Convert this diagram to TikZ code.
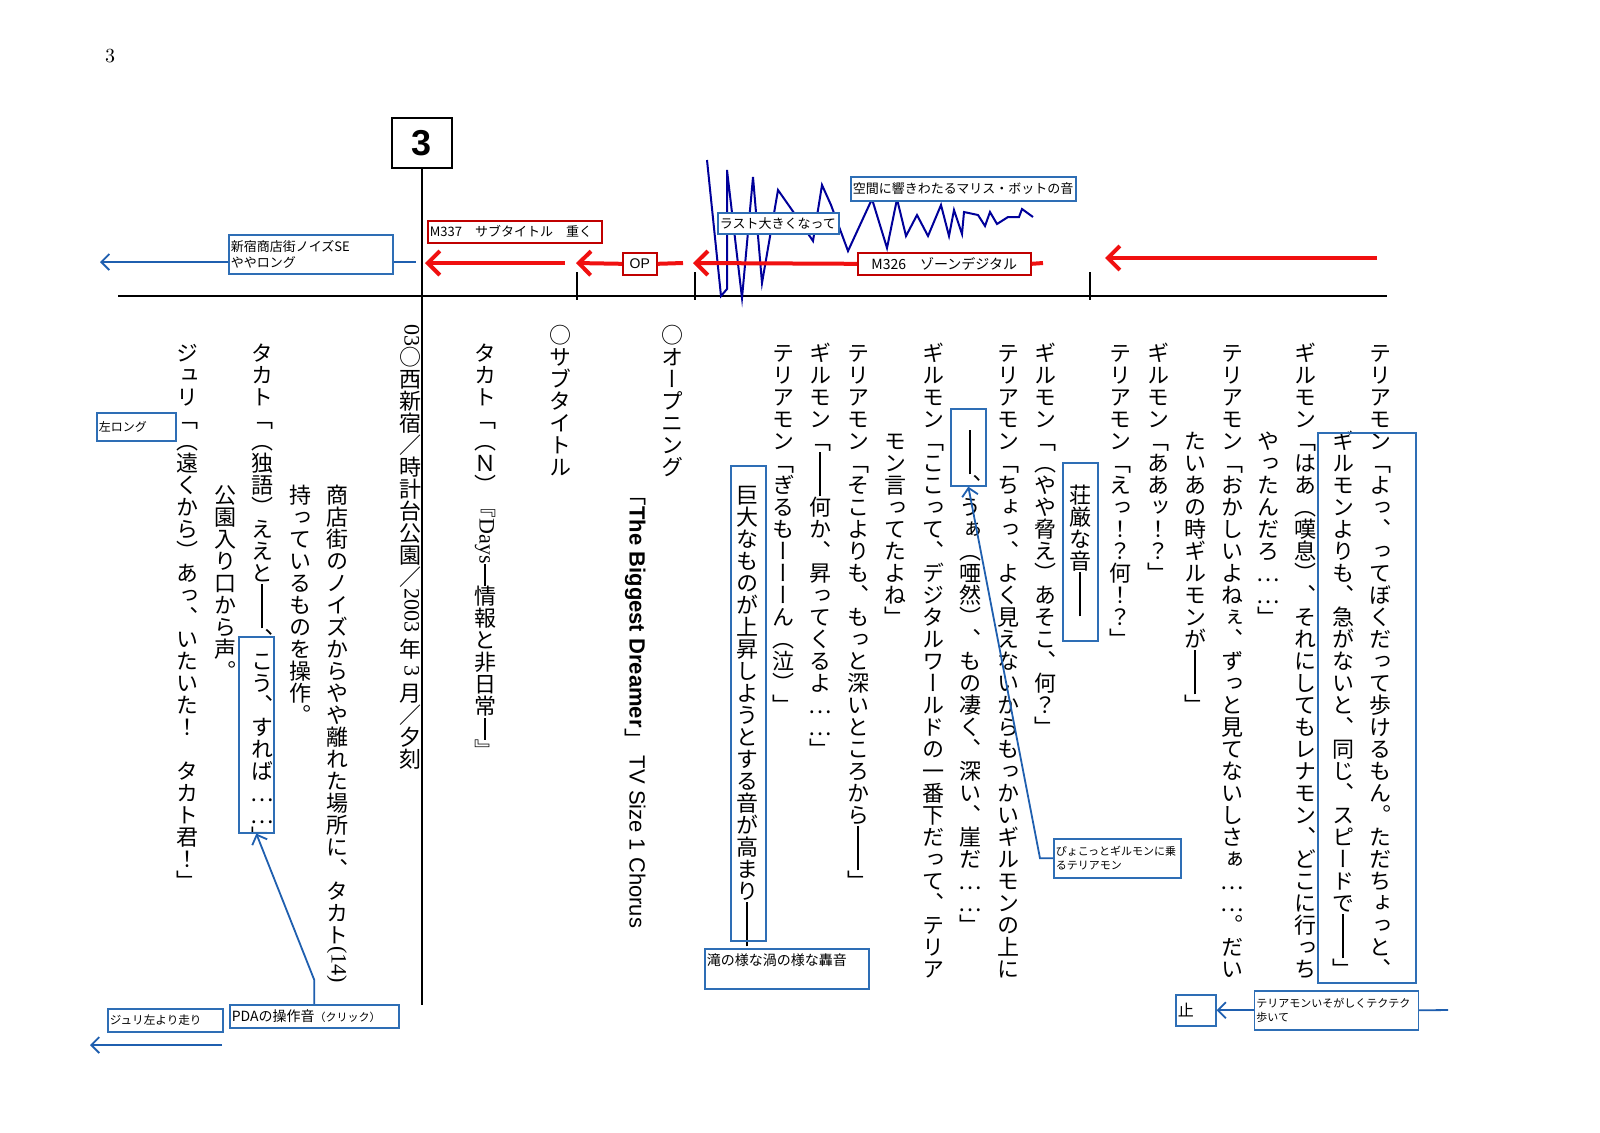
\documentclass[tikz,border=0pt]{standalone}
\usepackage{fontspec}
\usepackage{graphicx}
\usetikzlibrary{positioning,arrows.meta}
\newfontfamily\jfont{Noto Sans CJK JP}
\newfontfamily\tatefont[RawFeature=+vert]{Noto Sans CJK JP}
\newfontfamily\yokoserif{Liberation Serif}
\newfontfamily\yokosans{Liberation Sans}
\definecolor{boxblue}{HTML}{2E6EB5}
\definecolor{lineblue}{HTML}{1F5FAF}
\definecolor{boxred}{HTML}{C00000}
\definecolor{cuered}{HTML}{F01010}
\definecolor{wavenavy}{HTML}{00009A}

% one upright cell, one dash cell, one sideways run
\newcommand\tatecell[1]{\hbox to 1em{\vrule width 0pt height .88em depth .12em\relax\hss\smash{\tatefont #1}\hss}}
\newcommand\tatedash{\hbox to 1em{\hss\vrule width .05em height .88em depth .12em\relax\hss}}
\newcommand\yokocell[2]{\hbox to 1em{\hss\rotatebox{-90}{#1\vrule width 0pt height .75em depth .25em\relax #2}\hss}}
\ExplSyntaxOn
\NewDocumentCommand\tate{O{\yokoserif}m}
  {
    \vtop{\offinterlineskip
      \tl_map_inline:nn {#2}
        {
          \tl_if_single_token:nTF {##1}
            { \str_if_eq:nnTF {##1} {―} { \tatedash } { \tatecell{##1} } }
            { \yokocell{#1}{##1} }
        }
    }
  }
\ExplSyntaxOff

\begin{document}
\begin{tikzpicture}[x=0.5pt,y=-0.5pt]
  \tikzset{tcol/.style={anchor=north,inner sep=0pt,font=\fontsize{11}{11}\selectfont}}
  \tikzset{bbox/.style={draw=boxblue,line width=0.8pt,inner sep=1pt,anchor=north west,align=left,font=\jfont\fontsize{6.5}{8}\selectfont}}
  \tikzset{rbox/.style={draw=boxred,line width=0.8pt,fill=white,inner sep=1pt,anchor=north west,font=\jfont\fontsize{6.5}{8}\selectfont}}
  \tikzset{barrow/.style={draw=lineblue,line width=0.9pt,-{Straight Barb[length=4pt,width=8pt]}}}
  \tikzset{bline/.style={draw=lineblue,line width=0.9pt}}
  \tikzset{rarrow/.style={draw=cuered,line width=2pt,-{Straight Barb[length=6pt,width=12pt]}}}
  \tikzset{rline/.style={draw=cuered,line width=2pt}}
  \useasboundingbox[fill=white] (0,0) rectangle (1600,1132);

  \node[font=\fontsize{10}{10}\selectfont] (pg) at (110,56) {3};

  % time line
  \draw[line width=1pt] (118,296) -- (1387,296);
  \foreach \tx in {577,695,1090}
    \draw[line width=1pt] (\tx,272) -- (\tx,300);
  \node[draw,line width=1pt,fill=white,minimum width=30pt,minimum height=25pt,
        font=\yokosans\bfseries\fontsize{18}{18}\selectfont] (sec3) at (422,143) {3};
  \draw[line width=1pt] (sec3.south) -- (422,1005);

  % sound cues
  \draw[draw=wavenavy,line width=1pt,line join=miter] plot coordinates {
    (707,160) (721,296) (727,289) (727,170) (742,298) (753,177) (762,283) (778,190)
    (792,210) (813,241) (822,185) (831,205) (848,251) (872,199) (887,248) (897,199)
    (906,236) (917,215) (928,236) (941,205) (949,236) (954,210) (962,234) (964,212)
    (978,215) (985,226) (990,212) (997,224) (1008,217) (1019,217) (1022,209) (1033,217)};
  \node[bbox,fill=white,text width=58.5pt,minimum height=10.5pt] (rasuto) at (717,212) {ラスト大きくなって};
  \node[bbox,fill=white,text width=110.5pt,minimum height=12pt] (kukan) at (850,176) {空間に響きわたるマリス・ボットの音};

  \node[rbox,text width=85pt,minimum height=11pt] (m337) at (427,220) {M337\quad サブタイトル\quad 重く};
  \node[rbox,minimum width=17pt,minimum height=11pt,font=\yokosans\fontsize{7}{8}\selectfont] (op) at (622,252) {OP};
  \node[rbox,minimum width=86.5pt,minimum height=11pt,font=\jfont\fontsize{7}{8}\selectfont] (m326) at (857,252) {M326\quad ゾーンデジタル};
  \coordinate (a1s) at (565,263);
  \coordinate (a1e) at (425,263);
  \draw[rarrow] (a1s) -- (a1e);
  \draw[rarrow] (op.west) -- (576,263);
  \draw[rline] (op.east) -- (683,263);
  \draw[rarrow] (m326.west) -- (693,263);
  \draw[rline] (m326.east) -- (1043,263);
  \coordinate (a4s) at (1377,258);
  \coordinate (a4e) at (1105,258);
  \draw[rarrow] (a4s) -- (a4e);

  \node[bbox,text width=80pt,minimum height=19.5pt] (shinjuku) at (228,234) {新宿商店街ノイズSE\\ややロング};
  \coordinate (sjl) at (100,262);
  \coordinate (sjr) at (416,262);
  \draw[barrow] (shinjuku.west |- sjl) -- (sjl);
  \draw[bline] (shinjuku.east |- sjr) -- (sjr);

  % script columns, right to left
  \node[tcol] (t1) at (1380,342) {\tate{テリアモン「よっ、ってぼくだって歩けるもん。ただちょっと、}};
  \node[tcol] (t2) at (1343,430) {\tate{ギルモンよりも、急がないと、同じ、スピードで――」}};
  \node[tcol] (t3) at (1305,342) {\tate{ギルモン「はあ（嘆息）、それにしてもレナモン、どこに行っち}};
  \node[tcol] (t4) at (1268,430) {\tate{やったんだろ……」}};
  \node[tcol] (t5) at (1232,342) {\tate{テリアモン「おかしいよねぇ、ずっと見てないしさぁ……。だい}};
  \node[tcol] (t6) at (1195,430) {\tate{たいあの時ギルモンが――」}};
  \node[tcol] (t7) at (1158,342) {\tate{ギルモン「ああッ！？」}};
  \node[tcol] (t8) at (1120,342) {\tate{テリアモン「えっ！？何！？」}};
  \node[tcol] (t9) at (1080,484) {\tate{荘厳な音――}};
  \node[tcol] (t10) at (1045,342) {\tate{ギルモン「（やや脅え）あそこ、何？」}};
  \node[tcol] (t11) at (1008,342) {\tate{テリアモン「ちょっ、よく見えないからもっかいギルモンの上に}};
  \node[tcol] (t12) at (970,430) {\tate{――、うぁ（唖然）、もの凄く、深い、崖だ……」}};
  \node[tcol] (t13) at (933,342) {\tate{ギルモン「ここって、デジタルワールドの一番下だって、テリア}};
  \node[tcol] (t14) at (895,430) {\tate{モン言ってたよね」}};
  \node[tcol] (t15) at (858,342) {\tate{テリアモン「そこよりも、もっと深いところから――」}};
  \node[tcol] (t16) at (820,342) {\tate{ギルモン「――何か、昇ってくるよ……」}};
  \node[tcol] (t17) at (783,342) {\tate{テリアモン「ぎるもーーーん（泣）」}};
  \node[tcol] (t18) at (747,484) {\tate{巨大なものが上昇しようとする音が高まり――}};
  \node[tcol] (t19) at (672,324) {\tate{○オープニング}};
  \node[tcol] (t20) at (635,484) {\tate{「{\yokosans\bfseries The Biggest Dreamer}」{\yokosans\ TV Size 1 Chorus}}};
  \node[tcol] (t21) at (560,324) {\tate{○サブタイトル}};
  \node[tcol] (t22) at (485,342) {\tate{タカト「（Ｎ）『{Days}―情報と非日常―』}};
  \node[tcol] (t23) at (410,324) {\tate{{03}○西新宿／時計台公園／{2003\ }年{\ 3\ }月／夕刻}};
  \node[tcol] (t24) at (337,484) {\tate{商店街のノイズからやや離れた場所に、タカト{(14)}}};
  \node[tcol] (t25) at (300,484) {\tate{持っているものを操作。}};
  \node[tcol] (t26) at (262,342) {\tate{タカト「（独語）ええと――、こう、すれば……」}};
  \node[tcol] (t27) at (225,484) {\tate{公園入り口から声。}};
  \node[tcol] (t28) at (187,342) {\tate{ジュリ「（遠くから）あっ、いたいた！　タカト君！」}};

  % marks on the script
  \node[bbox,minimum width=49pt,minimum height=275pt] (bigbox) at (1317,432) {};
  \node[bbox,minimum width=17.5pt,minimum height=89pt] (shogen) at (1062,462) {};
  \node[bbox,minimum width=17.5pt,minimum height=38.5pt] (dash) at (950,408) {};
  \node[bbox,minimum width=17.5pt,minimum height=237.5pt] (kyodai) at (730,465) {};
  \node[bbox,minimum width=17.5pt,minimum height=98pt] (kou) at (238,636) {};

  \node[bbox,text width=61.5pt,minimum height=19.5pt,font=\jfont\fontsize{5.5}{7}\selectfont] (pyoko) at (1053,838) {ぴょこっとギルモンに乗\\るテリアモン};
  \draw[barrow] (pyoko.west) -- ++(-13,0) -- (dash.south);
  \node[bbox,text width=80pt,minimum height=20pt,font=\jfont\fontsize{7}{9}\selectfont] (taki) at (704,948) {滝の様な渦の様な轟音\\\mbox{}};
  \node[bbox,text width=37.5pt,minimum height=14pt,font=\jfont\fontsize{6}{7}\selectfont] (hidari) at (96,412) {左ロング};
  \node[bbox,text width=82.5pt,minimum height=11.5pt,font=\jfont\fontsize{7}{8}\selectfont] (pda) at (229,1004) {PDAの操作音{\fontsize{5.5}{6}\selectfont（クリック）}};
  \draw[barrow] (pda.north) -- ++(0,-24) -- (kou.south);
  \node[bbox,text width=55.5pt,minimum height=11.5pt,font=\jfont\fontsize{5.8}{7}\selectfont] (juri) at (107,1008) {ジュリ左より走り};
  \coordinate (jrs) at (222,1045);
  \coordinate (jre) at (90,1045);
  \draw[barrow] (jrs) -- (jre);

  \node[bbox,text width=18pt,minimum height=15.5pt,font=\jfont\fontsize{8}{9}\selectfont] (tome) at (1175,994) {止};
  \node[bbox,text width=80pt,minimum height=19.5pt,font=\jfont\fontsize{5.5}{7}\selectfont,
        anchor=west,right=18.5pt of tome] (teku) {テリアモンいそがしくテクテク\\歩いて};
  \coordinate (tkr) at (1448,1010);
  \draw[barrow] (teku.west) -- (tome.east);
  \draw[bline] (teku.east) -- (tkr);
\end{tikzpicture}
\end{document}
